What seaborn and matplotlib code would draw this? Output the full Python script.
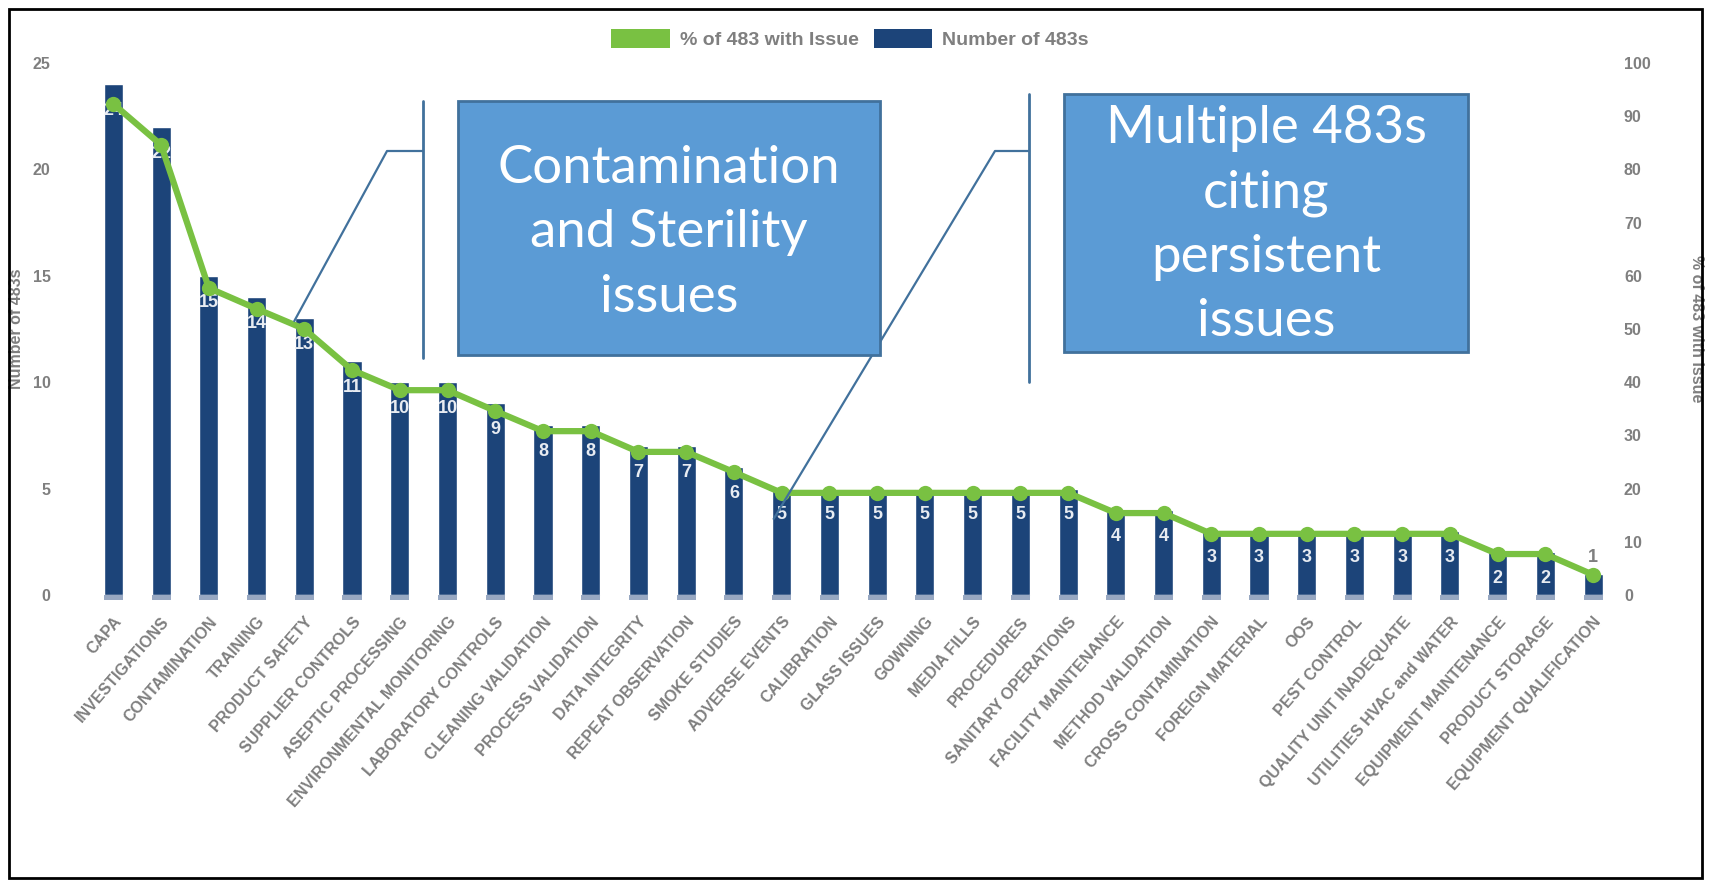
import numpy as np
import matplotlib
matplotlib.use("Agg")
import matplotlib.pyplot as plt
from matplotlib.patches import Patch, Rectangle
from matplotlib.lines import Line2D
import seaborn as sns

# ---- data -------------------------------------------------------------
categories = [
    "CAPA", "INVESTIGATIONS", "CONTAMINATION", "TRAINING", "PRODUCT SAFETY",
    "SUPPLIER CONTROLS", "ASEPTIC PROCESSING", "ENVIRONMENTAL MONITORING",
    "LABORATORY CONTROLS", "CLEANING VALIDATION", "PROCESS VALIDATION",
    "DATA INTEGRITY", "REPEAT OBSERVATION", "SMOKE STUDIES", "ADVERSE EVENTS",
    "CALIBRATION", "GLASS ISSUES", "GOWNING", "MEDIA FILLS", "PROCEDURES",
    "SANITARY OPERATIONS", "FACILITY MAINTENANCE", "METHOD VALIDATION",
    "CROSS CONTAMINATION", "FOREIGN MATERIAL", "OOS", "PEST CONTROL",
    "QUALITY UNIT INADEQUATE", "UTILITIES HVAC and WATER",
    "EQUIPMENT MAINTENANCE", "PRODUCT STORAGE", "EQUIPMENT QUALIFICATION",
]
num_483s = [24, 22, 15, 14, 13, 11, 10, 10, 9, 8, 8, 7, 7, 6, 5,
            5, 5, 5, 5, 5, 5, 4, 4, 3, 3, 3, 3, 3, 3, 2, 2, 1]
pct_with_issue = [92.3, 84.6, 57.7, 53.8, 50.0, 42.3, 38.5, 38.5, 34.6, 30.8,
                  30.8, 26.9, 26.9, 23.1, 19.2, 19.2, 19.2, 19.2, 19.2, 19.2,
                  19.2, 15.4, 15.4, 11.5, 11.5, 11.5, 11.5, 11.5, 11.5, 7.7,
                  7.7, 3.8]
left_ticks = [0, 5, 10, 15, 20, 25]
right_ticks = [0, 10, 20, 30, 40, 50, 60, 70, 80, 90, 100]
callout_texts = ["Contamination\nand Sterility\nissues",
                 "Multiple 483s\nciting\npersistent\nissues"]

# ---- style ------------------------------------------------------------
sns.set_theme(style="white")
plt.rcParams["font.family"] = ["Liberation Sans", "DejaVu Sans"]

NAVY = "#1C4479"
NAVY_BASE = "#98A8C2"
GREEN = "#79C142"
BOX_FILL = "#5B9BD5"
BOX_EDGE = "#41719C"
GREY = "#7F7F7F"

W, H = 1711, 882
fig = plt.figure(figsize=(W / 100, H / 100), dpi=100)


def fx(px):
    return px / W


def fy(py):
    return 1 - py / H


# plot area: y=0 at 595 px, y=25 at 63 px
ymin_left = -0.25
y0_px, y25_px = 595, 63
unit = (y0_px - y25_px) / 25
bottom_px = y0_px - ymin_left * unit
ax = fig.add_axes([fx(89.5), fy(bottom_px), fx(1617 - 89.5), (bottom_px - y25_px) / H])
ax2 = ax.twinx()

n = len(categories)
xpos = np.arange(n)

sns.barplot(x=xpos, y=num_483s, color=NAVY, saturation=1, width=0.4,
            ax=ax, native_scale=True, zorder=2)
# lighter base under each column
ax.bar(xpos, ymin_left, width=0.4, color=NAVY_BASE, zorder=2, linewidth=0)

sns.lineplot(x=xpos, y=pct_with_issue, ax=ax2, color=GREEN, linewidth=4.5,
             marker="o", markersize=11, markeredgewidth=0, zorder=5)

ax.set_xlim(-0.5, n - 0.5)
ax.set_ylim(ymin_left, 25)
ax2.set_ylim(ymin_left * 4, 100)
ax.set_yticks(left_ticks)
ax2.set_yticks(right_ticks)

for a in (ax, ax2):
    for s in a.spines.values():
        s.set_visible(False)
    a.tick_params(length=0)
    a.grid(False)
    a.set_xlabel("")
    a.set_ylabel("")

tick_font = dict(family="Liberation Sans", weight="bold", size=11.5, color=GREY)
ax.set_yticklabels([str(t) for t in left_ticks], **tick_font)
ax2.set_yticklabels([str(t) for t in right_ticks], **tick_font)
ax.tick_params(axis="y", pad=28)
ax2.tick_params(axis="y", pad=5)

ax.set_xticks(xpos)
ax.set_xticklabels(categories, rotation=49, ha="right", rotation_mode="anchor",
                   **tick_font)
ax.tick_params(axis="x", pad=10)
ax2.set_zorder(ax.get_zorder() + 1)
ax2.patch.set_visible(False)

# value labels on the columns
for i, v in enumerate(num_483s):
    if v >= 2:
        ax.annotate(str(v), (i, v), xytext=(0, -19), textcoords="offset points",
                    ha="center", va="center", color="#E8ECF2", fontsize=13,
                    fontweight="bold", zorder=3)
    else:
        ax.annotate(str(v), (i, v), xytext=(0, 12), textcoords="offset points",
                    ha="center", va="center", color=GREY, fontsize=13,
                    fontweight="bold", zorder=3)

# axis titles
fig.text(fx(17), fy(329), "Number of 483s", rotation=90, ha="center",
         va="center", **tick_font)
fig.text(fx(1697), fy(329), "% of 483 with Issue", rotation=270, ha="center",
         va="center", **tick_font)

# legend
handles = [Patch(facecolor=GREEN, edgecolor="none"),
           Patch(facecolor=NAVY, edgecolor="none")]
fig.legend(handles, ["% of 483 with Issue", "Number of 483s"],
           loc="center", bbox_to_anchor=(fx(850), fy(39)), ncol=2,
           frameon=False, handlelength=3.0, handleheight=1.1,
           columnspacing=0.8, handletextpad=0.5,
           prop=dict(family="Liberation Sans", weight="bold", size=14))
for t in fig.legends[0].get_texts():
    t.set_color(GREY)

# callout boxes (box extent in px, plus vertical shift of the text block)
boxes = [(458, 101, 880, 355, 5), (1064, 94, 1468, 352, 2)]
for (x0, y0, x1, y1, dy), txt in zip(boxes, callout_texts):
    fig.patches.append(Rectangle((fx(x0), fy(y1)), fx(x1 - x0), (y1 - y0) / H,
                                 transform=fig.transFigure, facecolor=BOX_FILL,
                                 edgecolor=BOX_EDGE, linewidth=2, zorder=10))
    fig.text(fx((x0 + x1) / 2), fy((y0 + y1) / 2 + dy), txt, ha="center",
             va="center", color="white", family="Lato", fontsize=38,
             linespacing=1.45, zorder=11)

# leader lines: vertical bar, short horizontal, diagonal to the marker
fig.canvas.draw()
leaders = [(423, 101, 358, 387, 151, 4, (-10, 8)),
           (1029, 94, 382, 995, 151, 14, (-8, -26))]
for vx, vy0, vy1, hx, hy, idx, off in leaders:
    px, py = ax2.transData.transform((idx, pct_with_issue[idx]))
    ex, ey = px + off[0], py + off[1]
    fig.lines.append(Line2D([fx(vx), fx(vx)], [fy(vy0), fy(vy1)],
                            transform=fig.transFigure, color=BOX_EDGE, lw=2, zorder=9))
    fig.lines.append(Line2D([fx(vx), fx(hx), ex / W], [fy(hy), fy(hy), ey / H],
                            transform=fig.transFigure, color=BOX_EDGE, lw=1.6, zorder=9))

# outer frame
fig.patches.append(Rectangle((fx(9), fy(878)), fx(1702 - 9), (878 - 9) / H,
                             transform=fig.transFigure, facecolor="none",
                             edgecolor="black", linewidth=2, zorder=20))

fig.savefig("out.png", dpi=100)
